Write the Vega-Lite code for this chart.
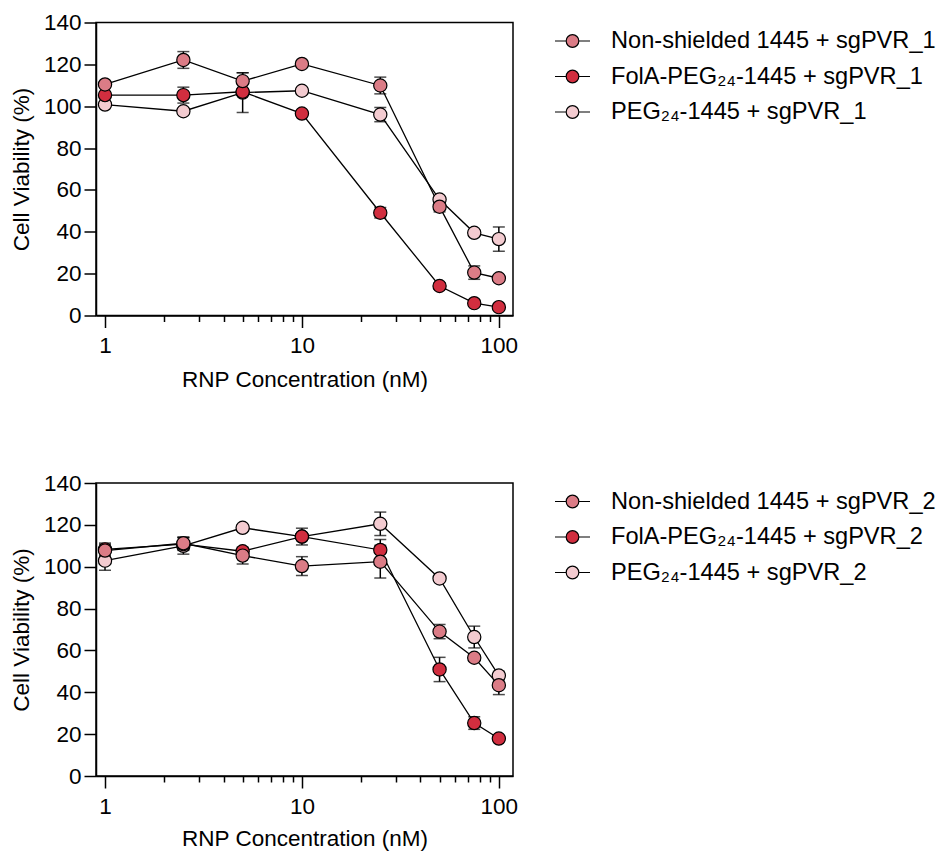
{
  "$schema": "https://vega.github.io/schema/vega-lite/v6.json",
  "background": "white",
  "padding": {"left": 9, "top": 10.5, "right": 0, "bottom": 0},
  "spacing": 79.5,
  "datasets": {
    "p1": [
      {"series": "PEG₂₄-1445 + sgPVR_1", "conc": 1, "v": 100.8, "err": 1.5},
      {"series": "PEG₂₄-1445 + sgPVR_1", "conc": 2.5, "v": 97.6, "err": 1.5},
      {"series": "PEG₂₄-1445 + sgPVR_1", "conc": 5, "v": 106.5, "err": 9.5},
      {"series": "PEG₂₄-1445 + sgPVR_1", "conc": 10, "v": 107.4, "err": 1.5},
      {"series": "PEG₂₄-1445 + sgPVR_1", "conc": 25, "v": 96, "err": 3.4},
      {"series": "PEG₂₄-1445 + sgPVR_1", "conc": 50, "v": 55.4, "err": 1.5},
      {"series": "PEG₂₄-1445 + sgPVR_1", "conc": 75, "v": 39.5, "err": 1.5},
      {"series": "PEG₂₄-1445 + sgPVR_1", "conc": 100, "v": 36.5, "err": 5.8},
      {"series": "FolA-PEG₂₄-1445 + sgPVR_1", "conc": 1, "v": 105.3, "err": 1.5},
      {"series": "FolA-PEG₂₄-1445 + sgPVR_1", "conc": 2.5, "v": 105.3, "err": 3.8},
      {"series": "FolA-PEG₂₄-1445 + sgPVR_1", "conc": 5, "v": 106.9, "err": 1.5},
      {"series": "FolA-PEG₂₄-1445 + sgPVR_1", "conc": 10, "v": 96.5, "err": 1.5},
      {"series": "FolA-PEG₂₄-1445 + sgPVR_1", "conc": 25, "v": 49.1, "err": 2.5},
      {"series": "FolA-PEG₂₄-1445 + sgPVR_1", "conc": 50, "v": 14.1, "err": 1.5},
      {"series": "FolA-PEG₂₄-1445 + sgPVR_1", "conc": 75, "v": 5.9, "err": 1.5},
      {"series": "FolA-PEG₂₄-1445 + sgPVR_1", "conc": 100, "v": 4, "err": 1.5},
      {"series": "Non-shielded 1445 + sgPVR_1", "conc": 1, "v": 110.4, "err": 1.5},
      {"series": "Non-shielded 1445 + sgPVR_1", "conc": 2.5, "v": 122.1, "err": 4},
      {"series": "Non-shielded 1445 + sgPVR_1", "conc": 5, "v": 112, "err": 4},
      {"series": "Non-shielded 1445 + sgPVR_1", "conc": 10, "v": 120.2, "err": 1.5},
      {"series": "Non-shielded 1445 + sgPVR_1", "conc": 25, "v": 109.9, "err": 4},
      {"series": "Non-shielded 1445 + sgPVR_1", "conc": 50, "v": 52, "err": 2.5},
      {"series": "Non-shielded 1445 + sgPVR_1", "conc": 75, "v": 20.5, "err": 3.2},
      {"series": "Non-shielded 1445 + sgPVR_1", "conc": 100, "v": 17.8, "err": 1.5}
    ],
    "p2": [
      {"series": "PEG₂₄-1445 + sgPVR_2", "conc": 1, "v": 102.9, "err": 4.6},
      {"series": "PEG₂₄-1445 + sgPVR_2", "conc": 2.5, "v": 110, "err": 4},
      {"series": "PEG₂₄-1445 + sgPVR_2", "conc": 5, "v": 118.6, "err": 1.5},
      {"series": "PEG₂₄-1445 + sgPVR_2", "conc": 10, "v": 114.4, "err": 1.5},
      {"series": "PEG₂₄-1445 + sgPVR_2", "conc": 25, "v": 120.5, "err": 5.6},
      {"series": "PEG₂₄-1445 + sgPVR_2", "conc": 50, "v": 94.4, "err": 1.5},
      {"series": "PEG₂₄-1445 + sgPVR_2", "conc": 75, "v": 66.4, "err": 5.2},
      {"series": "PEG₂₄-1445 + sgPVR_2", "conc": 100, "v": 48, "err": 2},
      {"series": "FolA-PEG₂₄-1445 + sgPVR_2", "conc": 1, "v": 108.3, "err": 3},
      {"series": "FolA-PEG₂₄-1445 + sgPVR_2", "conc": 2.5, "v": 110.8, "err": 3},
      {"series": "FolA-PEG₂₄-1445 + sgPVR_2", "conc": 5, "v": 107.4, "err": 1.5},
      {"series": "FolA-PEG₂₄-1445 + sgPVR_2", "conc": 10, "v": 114.4, "err": 4},
      {"series": "FolA-PEG₂₄-1445 + sgPVR_2", "conc": 25, "v": 108, "err": 5},
      {"series": "FolA-PEG₂₄-1445 + sgPVR_2", "conc": 50, "v": 50.9, "err": 5.8},
      {"series": "FolA-PEG₂₄-1445 + sgPVR_2", "conc": 75, "v": 25.3, "err": 3},
      {"series": "FolA-PEG₂₄-1445 + sgPVR_2", "conc": 100, "v": 17.9, "err": 1.5},
      {"series": "Non-shielded 1445 + sgPVR_2", "conc": 1, "v": 107.7, "err": 3},
      {"series": "Non-shielded 1445 + sgPVR_2", "conc": 2.5, "v": 111.2, "err": 3},
      {"series": "Non-shielded 1445 + sgPVR_2", "conc": 5, "v": 105.3, "err": 4},
      {"series": "Non-shielded 1445 + sgPVR_2", "conc": 10, "v": 100.3, "err": 4.5},
      {"series": "Non-shielded 1445 + sgPVR_2", "conc": 25, "v": 102.4, "err": 7.8},
      {"series": "Non-shielded 1445 + sgPVR_2", "conc": 50, "v": 69, "err": 3.4},
      {"series": "Non-shielded 1445 + sgPVR_2", "conc": 75, "v": 56.5, "err": 1.5},
      {"series": "Non-shielded 1445 + sgPVR_2", "conc": 100, "v": 43.4, "err": 4.5}
    ]
  },
  "config": {
    "font": "Liberation Sans",
    "view": {"stroke": "black", "strokeWidth": 1.5},
    "axis": {
      "domainColor": "black", "domainWidth": 1.5,
      "tickColor": "black", "tickWidth": 1.5,
      "labelColor": "black", "titleColor": "black",
      "labelFont": "Liberation Sans", "titleFont": "Liberation Sans",
      "labelFontSize": 22.5, "titleFontSize": 22.5, "titleFontWeight": "normal",
      "grid": false
    },
    "legend": {
      "title": null,
      "orient": "right",
      "offset": 41,
      "labelFont": "Liberation Sans",
      "labelFontSize": 23.6,
      "labelColor": "black",
      "labelLimit": 0,
      "labelOffset": 20,
      "rowPadding": 4.5,
      "symbolSize": 1225,
      "symbolType": "M-1,0L-0.36,0M0.36,0L1,0M0.36,0A0.36,0.36,0,1,1,-0.36,0A0.36,0.36,0,1,1,0.36,0Z",
      "symbolStrokeColor": "black",
      "symbolStrokeWidth": 1.2
    }
  },
  "resolve": {"scale": {"fill": "independent"}, "legend": {"fill": "independent"}},
  "vconcat": [
    {
      "width": 417, "height": 293,
      "data": {"name": "p1"},
      "encoding": {
        "x": {"field": "conc", "type": "quantitative",
          "scale": {"type": "log", "domain": [0.9, 118], "nice": false},
          "axis": {"title": "RNP Concentration (nM)",
            "values": [1,2,3,4,5,6,7,8,9,10,20,30,40,50,60,70,80,90,100],
            "labelExpr": "datum.value == 1 || datum.value == 10 || datum.value == 100 ? datum.label : ''",
            "tickSize": {"condition": {"test": "datum.value == 1 || datum.value == 10 || datum.value == 100", "value": 12}, "value": 6},
            "labelPadding": 7, "titlePadding": 11, "labelFlush": false, "labelOverlap": false, "format": "~g"}},
        "y": {"field": "v", "type": "quantitative",
          "scale": {"domain": [0, 140], "nice": false},
          "axis": {"title": "Cell Viability (%)", "values": [0,20,40,60,80,100,120,140],
            "tickSize": 12, "labelPadding": 3, "titlePadding": 10}}
      },
      "layer": [
        {"mark": {"type": "errorbar", "color": "black", "thickness": 1.5, "ticks": {"size": 12, "thickness": 1.5, "color": "black"}},
         "encoding": {"yError": {"field": "err"}}},
        {"mark": {"type": "line", "color": "black", "strokeWidth": 1.3},
         "encoding": {"detail": {"field": "series"}}},
        {"mark": {"type": "point", "filled": true, "size": 175, "opacity": 1, "stroke": "black", "strokeWidth": 1.2},
         "encoding": {"fill": {"field": "series", "type": "nominal",
           "scale": {"domain": ["Non-shielded 1445 + sgPVR_1", "FolA-PEG₂₄-1445 + sgPVR_1", "PEG₂₄-1445 + sgPVR_1"],
                     "range": ["#db7c86", "#d12e3f", "#f3cbd0"]},
           "legend": {"symbolType": "M-1,0L-0.36,0M0.36,0L1,0M0.36,0A0.36,0.36,0,1,1,-0.36,0A0.36,0.36,0,1,1,0.36,0Z"}}}}
      ]
    },
    {
      "width": 417, "height": 293,
      "data": {"name": "p2"},
      "encoding": {
        "x": {"field": "conc", "type": "quantitative",
          "scale": {"type": "log", "domain": [0.9, 118], "nice": false},
          "axis": {"title": "RNP Concentration (nM)",
            "values": [1,2,3,4,5,6,7,8,9,10,20,30,40,50,60,70,80,90,100],
            "labelExpr": "datum.value == 1 || datum.value == 10 || datum.value == 100 ? datum.label : ''",
            "tickSize": {"condition": {"test": "datum.value == 1 || datum.value == 10 || datum.value == 100", "value": 12}, "value": 6},
            "labelPadding": 7, "titlePadding": 10, "labelFlush": false, "labelOverlap": false, "format": "~g"}},
        "y": {"field": "v", "type": "quantitative",
          "scale": {"domain": [0, 140], "nice": false},
          "axis": {"title": "Cell Viability (%)", "values": [0,20,40,60,80,100,120,140],
            "tickSize": 12, "labelPadding": 3, "titlePadding": 10}}
      },
      "layer": [
        {"mark": {"type": "errorbar", "color": "black", "thickness": 1.5, "ticks": {"size": 12, "thickness": 1.5, "color": "black"}},
         "encoding": {"yError": {"field": "err"}}},
        {"mark": {"type": "line", "color": "black", "strokeWidth": 1.3},
         "encoding": {"detail": {"field": "series"}}},
        {"mark": {"type": "point", "filled": true, "size": 175, "opacity": 1, "stroke": "black", "strokeWidth": 1.2},
         "encoding": {"fill": {"field": "series", "type": "nominal",
           "scale": {"domain": ["Non-shielded 1445 + sgPVR_2", "FolA-PEG₂₄-1445 + sgPVR_2", "PEG₂₄-1445 + sgPVR_2"],
                     "range": ["#db7c86", "#d12e3f", "#f3cbd0"]},
           "legend": {"symbolType": "M-1,0L-0.36,0M0.36,0L1,0M0.36,0A0.36,0.36,0,1,1,-0.36,0A0.36,0.36,0,1,1,0.36,0Z"}}}}
      ]
    }
  ]
}
